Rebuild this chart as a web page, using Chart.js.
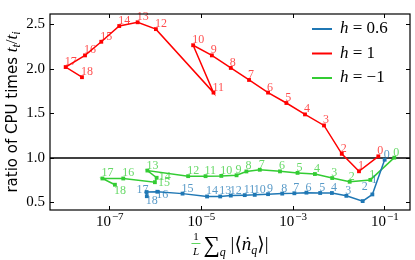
<!DOCTYPE html>
<html>
<head>
<meta charset="utf-8">
<script src="https://cdn.jsdelivr.net/npm/chart.js@4"></script>
<style>
  html, body { margin: 0; padding: 0; background: #fff; }
</style>
</head>
<body>
<canvas id="chart" width="415" height="260"></canvas>
<script>
// series names (legend)
const seriesNames = ['0.6', '1', '−1'];
const seriesColors = ['#1f77b4', '#ff0000', '#33cc33'];
const labelColors = ['rgba(31,119,180,0.75)', 'rgba(255,0,0,0.7)', 'rgba(51,204,51,0.75)'];

// h = 0.6
const xBlue = [0.1016, 0.0548, 0.0337, 0.01486, 0.00718, 0.00399, 0.0020, 0.00109, 5.93e-4, 2.91e-4, 1.49e-4, 9.03e-5, 4.48e-5, 2.63e-5, 1.36e-5, 3.97e-6, 1.12e-6, 6.53e-7, 6.6e-7];
const yBlue = [0.98, 0.59, 0.515, 0.574, 0.606, 0.606, 0.61, 0.603, 0.599, 0.593, 0.585, 0.582, 0.577, 0.567, 0.567, 0.599, 0.62, 0.617, 0.57];

// h = 1
const xRed = [0.074, 0.028, 0.0118, 0.00483, 0.00186, 7.3e-4, 2.91e-4, 1.12e-4, 4.48e-5, 1.73e-5, 6.76e-6, 1.88e-5, 1.04e-6, 4.16e-7, 1.65e-7, 6.7e-8, 2.96e-8, 1.12e-8, 2.54e-8];
const yRed = [1.018, 0.85, 1.046, 1.365, 1.489, 1.617, 1.734, 1.876, 2.011, 2.152, 2.266, 1.734, 2.447, 2.524, 2.482, 2.305, 2.152, 2.021, 1.907];

// h = -1
const xGreen = [0.165, 0.0495, 0.01754, 0.0073, 0.00306, 0.00128, 5.3e-4, 1.92e-4, 9.8e-5, 5.97e-5, 2.78e-5, 1.26e-5, 5.26e-6, 6.79e-7, 1.08e-6, 9.9e-7, 2.02e-7, 7.1e-8, 1.33e-7];
const yGreen = [1.003, 0.753, 0.732, 0.774, 0.819, 0.832, 0.849, 0.867, 0.848, 0.805, 0.798, 0.795, 0.795, 0.858, 0.777, 0.727, 0.769, 0.769, 0.699];

const xTickValues = [1e-7, 1e-5, 1e-3, 1e-1];
const xTickExponents = ['−7', '−5', '−3', '−1'];
const yTickValues = [0.5, 1.0, 1.5, 2.0, 2.5];
const refLine = 1.0;

// a few point numbers were nudged off their marker in the original
const labelShift = {
    0: { 1: [0, -9], 2: [0, -9], 16: [0, 8], 17: [-9, 3], 18: [0, 10] },
    2: { 14: [3, 4], 15: [4, 6], 18: [0, 11] },
};

const serif = '"Liberation Serif", "DejaVu Serif", serif';
const toPoints = (xs, ys) => xs.map((x, i) => ({ x: x, y: ys[i] }));

const decorations = {
    id: 'decorations',
    beforeDatasetsDraw(chart) {
        const { ctx, chartArea: a, scales } = chart;
        const y = scales.y.getPixelForValue(refLine);
        ctx.save();
        ctx.strokeStyle = '#000';
        ctx.lineWidth = 1.5;
        ctx.beginPath();
        ctx.moveTo(a.left, y);
        ctx.lineTo(a.right, y);
        ctx.stroke();
        ctx.restore();
    },
    afterDatasetsDraw(chart) {
        const { ctx } = chart;
        ctx.save();
        ctx.font = `12px ${serif}`;
        ctx.textAlign = 'left';
        ctx.textBaseline = 'alphabetic';
        chart.data.datasets.forEach((ds, di) => {
            const meta = chart.getDatasetMeta(di);
            ctx.fillStyle = labelColors[di];
            meta.data.forEach((pt, i) => {
                const sh = (labelShift[di] && labelShift[di][i]) || [0, 0];
                ctx.fillText(String(i), pt.x - 1 + sh[0], pt.y - 2 + sh[1]);
            });
        });
        ctx.restore();
    },
    afterDraw(chart) {
        const { ctx, chartArea: a, scales } = chart;
        ctx.save();
        // frame
        ctx.strokeStyle = '#000';
        ctx.lineWidth = 1.2;
        ctx.strokeRect(a.left, a.top, a.right - a.left, a.bottom - a.top);

        // inward ticks on all four sides
        ctx.lineWidth = 1;
        ctx.beginPath();
        xTickValues.forEach((v) => {
            const x = Math.round(scales.x.getPixelForValue(v)) + 0.5;
            ctx.moveTo(x, a.bottom); ctx.lineTo(x, a.bottom - 4);
            ctx.moveTo(x, a.top); ctx.lineTo(x, a.top + 4);
        });
        yTickValues.forEach((v) => {
            const y = Math.round(scales.y.getPixelForValue(v)) + 0.5;
            ctx.moveTo(a.left, y); ctx.lineTo(a.left + 4, y);
            ctx.moveTo(a.right, y); ctx.lineTo(a.right - 4, y);
        });
        ctx.stroke();

        // x tick labels 10^n
        ctx.fillStyle = '#000';
        ctx.textBaseline = 'alphabetic';
        ctx.textAlign = 'left';
        xTickValues.forEach((v, i) => {
            const x = scales.x.getPixelForValue(v);
            ctx.font = `15px ${serif}`;
            const wb = ctx.measureText('10').width;
            ctx.font = `11px ${serif}`;
            const we = ctx.measureText(xTickExponents[i]).width;
            const x0 = x - (wb + we) / 2;
            ctx.font = `15px ${serif}`;
            ctx.fillText('10', x0, a.bottom + 16);
            ctx.font = `11px ${serif}`;
            ctx.fillText(xTickExponents[i], x0 + wb + 1, a.bottom + 10);
        });

        // legend
        chart.data.datasets.forEach((ds, i) => {
            const ly = a.top + 15 + i * 24.5;
            ctx.strokeStyle = ds.borderColor;
            ctx.lineWidth = 2;
            ctx.beginPath();
            ctx.moveTo(312, ly); ctx.lineTo(332, ly);
            ctx.stroke();
            ctx.fillStyle = '#000';
            ctx.textBaseline = 'middle';
            ctx.font = `italic 17px ${serif}`;
            ctx.fillText('h', 340, ly);
            const wh = ctx.measureText('h').width;
            ctx.font = `17px ${serif}`;
            ctx.fillText(' = ' + seriesNames[i], 340 + wh, ly);
        });

        // y axis title
        const ySeg = [
            { t: 'ratio of CPU times ', f: '15px "DejaVu Sans", sans-serif', dy: 0 },
            { t: 't', f: `italic 17px ${serif}`, dy: 0 },
            { t: 't', f: `italic 12px ${serif}`, dy: 4 },
            { t: '/', f: `17px ${serif}`, dy: 0 },
            { t: 't', f: `italic 17px ${serif}`, dy: 0 },
            { t: 'i', f: `italic 12px ${serif}`, dy: 4 },
        ];
        let total = 0;
        ySeg.forEach((s) => { ctx.font = s.f; s.w = ctx.measureText(s.t).width; total += s.w; });
        ctx.translate(13, (a.top + a.bottom) / 2);
        ctx.rotate(-Math.PI / 2);
        ctx.textBaseline = 'middle';
        let cx = -total / 2;
        ySeg.forEach((s) => { ctx.font = s.f; ctx.fillText(s.t, cx, s.dy); cx += s.w; });
        ctx.setTransform(1, 0, 0, 1, 0, 0);

        // x axis title: 1/L sum_q |<n_q>|
        const midX = (a.left + a.right) / 2;
        const base = 250;
        const xSeg = [
            { t: '∑', f: `23px ${serif}`, dy: 2 },
            { t: 'q', f: `italic 12px ${serif}`, dy: 6 },
            { t: ' |⟨', f: `19px ${serif}`, dy: 0 },
            { t: 'ṅ', f: `italic 19px ${serif}`, dy: 0 },
            { t: 'q', f: `italic 12px ${serif}`, dy: 4 },
            { t: '⟩|', f: `19px ${serif}`, dy: 0 },
        ];
        const fracW = 9;
        let tw = fracW + 3;
        xSeg.forEach((s) => { ctx.font = s.f; s.w = ctx.measureText(s.t).width; tw += s.w; });
        let px = midX - tw / 2;
        ctx.textBaseline = 'alphabetic';
        ctx.textAlign = 'center';
        ctx.font = `11px ${serif}`;
        ctx.fillText('1', px + fracW / 2, base - 10);
        ctx.font = `italic 11px ${serif}`;
        ctx.fillText('L', px + fracW / 2, base + 5);
        ctx.lineWidth = 0.8;
        ctx.beginPath();
        ctx.moveTo(px, base - 6.5); ctx.lineTo(px + fracW, base - 6.5);
        ctx.stroke();
        ctx.textAlign = 'left';
        px += fracW + 3;
        xSeg.forEach((s) => { ctx.font = s.f; ctx.fillText(s.t, px, base + s.dy); px += s.w; });
        ctx.restore();
    },
};

const makeSet = (i, xs, ys) => ({
    label: seriesNames[i],
    data: toPoints(xs, ys),
    borderColor: seriesColors[i],
    backgroundColor: seriesColors[i],
    borderWidth: 1.5,
    pointStyle: 'rect',
    pointRadius: 2.7,
    pointBorderWidth: 0,
    tension: 0,
});

new Chart(document.getElementById('chart'), {
    type: 'line',
    data: {
        datasets: [
            makeSet(0, xBlue, yBlue),
            makeSet(1, xRed, yRed),
            makeSet(2, xGreen, yGreen),
        ],
    },
    options: {
        responsive: false,
        animation: false,
        devicePixelRatio: 1,
        layout: { padding: { left: 0, top: 3, right: 5, bottom: 0 } },
        plugins: { legend: { display: false }, tooltip: { enabled: false } },
        scales: {
            x: {
                type: 'logarithmic',
                min: 5.1e-9,
                max: 0.363,
                afterBuildTicks: (s) => { s.ticks = xTickValues.map((v) => ({ value: v })); },
                afterFit: (s) => { s.height = 50; },
                ticks: { display: false },
                grid: { display: false, drawTicks: false },
                border: { display: false },
            },
            y: {
                type: 'linear',
                min: 0.415,
                max: 2.617,
                afterBuildTicks: (s) => { s.ticks = yTickValues.map((v) => ({ value: v })); },
                afterFit: (s) => { s.width = 50; },
                ticks: {
                    padding: 5,
                    color: '#000',
                    font: { family: 'Liberation Serif', size: 15 },
                    callback: (v) => Number(v).toFixed(1),
                },
                grid: { display: false, drawTicks: false },
                border: { display: false },
            },
        },
    },
    plugins: [decorations],
});
</script>
</body>
</html>
